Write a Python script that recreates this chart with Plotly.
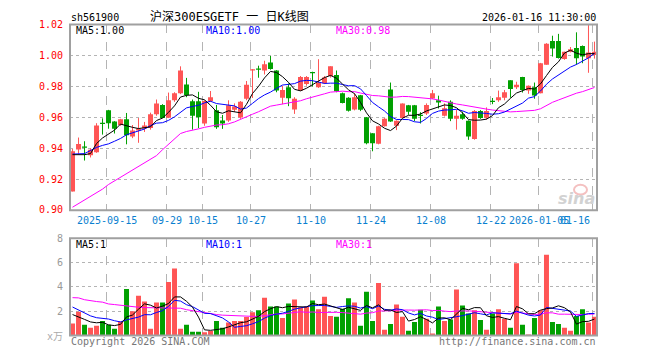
import plotly.graph_objects as go

dates = [
    "2025-09-05", "2025-09-08", "2025-09-09", "2025-09-10", "2025-09-11", "2025-09-12",
    "2025-09-15", "2025-09-16", "2025-09-17", "2025-09-18", "2025-09-19",
    "2025-09-22", "2025-09-23", "2025-09-24", "2025-09-25", "2025-09-26",
    "2025-09-29", "2025-09-30",
    "2025-10-09", "2025-10-10", "2025-10-13", "2025-10-14", "2025-10-15", "2025-10-16",
    "2025-10-17", "2025-10-20", "2025-10-21", "2025-10-22", "2025-10-23", "2025-10-24",
    "2025-10-27", "2025-10-28", "2025-10-29", "2025-10-30", "2025-10-31",
    "2025-11-03", "2025-11-04", "2025-11-05", "2025-11-06", "2025-11-07",
    "2025-11-10", "2025-11-11", "2025-11-12", "2025-11-13", "2025-11-14",
    "2025-11-17", "2025-11-18", "2025-11-19", "2025-11-20", "2025-11-21",
    "2025-11-24", "2025-11-25", "2025-11-26", "2025-11-27", "2025-11-28",
    "2025-12-01", "2025-12-02", "2025-12-03", "2025-12-04", "2025-12-05",
    "2025-12-08", "2025-12-09", "2025-12-10", "2025-12-11", "2025-12-12",
    "2025-12-15", "2025-12-16", "2025-12-17", "2025-12-18", "2025-12-19",
    "2025-12-22", "2025-12-23", "2025-12-24", "2025-12-25", "2025-12-26",
    "2025-12-29", "2025-12-30", "2025-12-31",
    "2026-01-05", "2026-01-06", "2026-01-07", "2026-01-08", "2026-01-09",
    "2026-01-12", "2026-01-13", "2026-01-14", "2026-01-15", "2026-01-16",
]

opens = [
    0.912, 0.9392, 0.9408, 0.9355, 0.9373, 0.9562, 0.9645, 0.9572, 0.955, 0.9588,
    0.9475, 0.9515, 0.9527, 0.953, 0.962, 0.968, 0.9597, 0.971, 0.9755, 0.9812,
    0.9704, 0.9704, 0.956, 0.9705, 0.9645, 0.958, 0.958, 0.9648, 0.9598, 0.972,
    0.9905, 0.9912, 0.9903, 0.9955, 0.9903, 0.9727, 0.9794, 0.9651, 0.9773, 0.9815,
    0.9892, 0.9795, 0.9821, 0.9867, 0.9873, 0.9756, 0.9727, 0.965, 0.9743, 0.960,
    0.9497, 0.9428, 0.9542, 0.978, 0.9546, 0.9595, 0.9678, 0.9678, 0.9614, 0.9625,
    0.9722, 0.971, 0.961, 0.970, 0.959, 0.962, 0.9578, 0.9459, 0.9641, 0.9597,
    0.9704, 0.971, 0.9727, 0.9839, 0.9794, 0.986, 0.9773, 0.9794, 0.9756, 0.994,
    1.0093, 1.0093, 0.9978, 1.0024, 1.0049, 1.0062, 0.9982, 1.0003,
]
highs = [
    0.9395, 0.9469, 0.9445, 0.940, 0.9562, 0.9593, 0.9648, 0.9575, 0.959, 0.9628,
    0.955, 0.9595, 0.957, 0.963, 0.9715, 0.9685, 0.976, 0.9762, 0.993, 0.9855,
    0.9715, 0.9765, 0.971, 0.977, 0.968, 0.9615, 0.971, 0.969, 0.9705, 0.9835,
    0.9912, 0.9934, 0.9966, 0.9997, 0.9905, 0.9804, 0.9819, 0.973, 0.9867, 0.9867,
    0.9895, 0.9976, 0.9867, 0.993, 0.9903, 0.976, 0.973, 0.9755, 0.9745, 0.9602,
    0.9497, 0.9545, 0.9595, 0.9825, 0.958, 0.969, 0.968, 0.968, 0.9633, 0.969,
    0.9777, 0.974, 0.969, 0.971, 0.9647, 0.9637, 0.958, 0.9647, 0.9647, 0.9664,
    0.9725, 0.9773, 0.9777, 0.984, 0.983, 0.9862, 0.9806, 0.9825, 0.9952, 1.008,
    1.0128, 1.014, 1.0025, 1.0055, 1.015, 1.0065, 1.0202, 1.009,
]
lows = [
    0.912, 0.9364, 0.932, 0.934, 0.937, 0.9488, 0.9526, 0.9495, 0.9545, 0.9425,
    0.9465, 0.9435, 0.9505, 0.952, 0.961, 0.9595, 0.9595, 0.970, 0.975, 0.973,
    0.952, 0.953, 0.9545, 0.970, 0.9525, 0.9525, 0.957, 0.9635, 0.959, 0.971,
    0.9725, 0.9856, 0.9877, 0.9908, 0.9762, 0.9685, 0.9672, 0.9622, 0.977, 0.9805,
    0.980, 0.979, 0.9815, 0.9857, 0.9762, 0.969, 0.9637, 0.9645, 0.964, 0.9425,
    0.938, 0.9425, 0.954, 0.957, 0.9517, 0.9593, 0.9616, 0.9575, 0.956, 0.9615,
    0.9718, 0.9657, 0.9605, 0.9575, 0.952, 0.9584, 0.9454, 0.9455, 0.959, 0.9585,
    0.9685, 0.970, 0.971, 0.9727, 0.9783, 0.976, 0.9752, 0.972, 0.9755, 0.994,
    0.9993, 0.998, 0.9972, 1.002, 0.994, 0.995, 0.9888, 0.998,
]
closes = [
    0.938, 0.9427, 0.9405, 0.939, 0.9547, 0.956, 0.9561, 0.9525, 0.9588, 0.9484,
    0.9515, 0.9525, 0.9547, 0.962, 0.969, 0.9595, 0.971, 0.9755, 0.9903, 0.9745,
    0.961, 0.960, 0.9705, 0.973, 0.9535, 0.956, 0.9678, 0.967, 0.970, 0.981,
    0.991, 0.991, 0.9944, 0.9913, 0.9773, 0.9777, 0.9724, 0.972, 0.986, 0.986,
    0.9885, 0.9825, 0.9857, 0.993, 0.9768, 0.9693, 0.9643, 0.973, 0.9648, 0.9432,
    0.9432, 0.9542, 0.959, 0.9573, 0.9578, 0.9689, 0.9636, 0.959, 0.9612, 0.968,
    0.9756, 0.9695, 0.9658, 0.959, 0.961, 0.959, 0.9475, 0.9641, 0.9595, 0.964,
    0.9702, 0.973, 0.9762, 0.9783, 0.981, 0.9777, 0.9804, 0.9741, 0.995, 1.0076,
    1.0045, 0.9983, 1.0024, 1.004, 0.9982, 0.9993, 1.002, 1.0024,
]
ma5 = [
    0.9358, 0.9358, 0.9358, 0.9365, 0.9430, 0.9466, 0.9493, 0.9517, 0.9556, 0.9544,
    0.9535, 0.9527, 0.9532, 0.9538, 0.9579, 0.9595, 0.9632, 0.9674, 0.9731, 0.9742,
    0.9745, 0.9723, 0.9713, 0.9678, 0.9636, 0.9626, 0.9642, 0.9635, 0.9629, 0.9684,
    0.9754, 0.9800, 0.9855, 0.9897, 0.9890, 0.9863, 0.9826, 0.9781, 0.9771, 0.9788,
    0.9810, 0.9830, 0.9857, 0.9871, 0.9853, 0.9815, 0.9778, 0.9753, 0.9696, 0.9629,
    0.9577, 0.9557, 0.9529, 0.9514, 0.9543, 0.9594, 0.9613, 0.9613, 0.9621, 0.9641,
    0.9655, 0.9667, 0.9680, 0.9676, 0.9662, 0.9629, 0.9585, 0.9581, 0.9582, 0.9588,
    0.9611, 0.9662, 0.9686, 0.9723, 0.9757, 0.9772, 0.9787, 0.9783, 0.9816, 0.9870,
    0.9923, 0.9959, 1.0016, 1.0034, 1.0015, 1.0004, 1.0012, 1.0012,
]
ma10 = [
    0.9362, 0.9362, 0.9365, 0.9385, 0.9405, 0.9418, 0.9428, 0.9445, 0.9463, 0.9487,
    0.9500, 0.9510, 0.9524, 0.9547, 0.9562, 0.9565, 0.9580, 0.9603, 0.9634, 0.9661,
    0.9670, 0.9678, 0.9693, 0.9704, 0.9689, 0.9685, 0.9682, 0.9674, 0.9653, 0.9660,
    0.9690, 0.9721, 0.9745, 0.9763, 0.9787, 0.9809, 0.9813, 0.9818, 0.9834, 0.9839,
    0.9837, 0.9828, 0.9819, 0.9821, 0.9821, 0.9812, 0.9804, 0.9805, 0.9784, 0.9741,
    0.9696, 0.9668, 0.9641, 0.9605, 0.9586, 0.9586, 0.9585, 0.9571, 0.9567, 0.9592,
    0.9625, 0.9640, 0.9647, 0.9648, 0.9652, 0.9642, 0.9626, 0.9631, 0.9629, 0.9625,
    0.9620, 0.9623, 0.9634, 0.9653, 0.9673, 0.9692, 0.9724, 0.9734, 0.9770, 0.9814,
    0.9848, 0.9873, 0.9899, 0.9925, 0.9942, 0.9964, 0.9985, 1.0014,
]
ma30 = [
    0.9018, 0.9042, 0.9066, 0.9090, 0.9110, 0.9135, 0.9165, 0.9188, 0.9210, 0.9235,
    0.9258, 0.9278, 0.9305, 0.9328, 0.9352, 0.9390, 0.9425, 0.9465, 0.9495, 0.9508,
    0.9515, 0.9525, 0.9535, 0.9543, 0.9550, 0.9552, 0.9558, 0.9570, 0.9585, 0.9602,
    0.9620, 0.9636, 0.9654, 0.9672, 0.9679, 0.9686, 0.9692, 0.9698, 0.9707, 0.9720,
    0.9732, 0.9742, 0.9752, 0.9763, 0.9765, 0.9769, 0.9766, 0.9766, 0.9757, 0.9747,
    0.9741, 0.9739, 0.9735, 0.9730, 0.9731, 0.9735, 0.9734, 0.9731, 0.9728, 0.9724,
    0.9719, 0.9712, 0.9702, 0.9692, 0.9686, 0.9680, 0.9672, 0.9669, 0.9660, 0.9653,
    0.9647, 0.9644, 0.9640, 0.9635, 0.9637, 0.9640, 0.9645, 0.9645, 0.9655, 0.9677,
    0.9697, 0.9712, 0.9727, 0.9742, 0.9756, 0.9766, 0.9778, 0.9793,
]
volumes = [
    0.99, 1.95, 0.88, 0.64, 0.80, 1.20, 0.88, 0.56, 1.15, 3.84,
    2.00, 3.28, 2.80, 0.56, 2.72, 2.72, 4.40, 5.52, 0.56, 0.88,
    0.32, 0.32, 0.27, 0.37, 1.20, 0.64, 1.07, 1.20, 1.20, 1.52,
    1.92, 2.08, 3.12, 2.40, 2.40, 1.44, 2.64, 2.96, 2.32, 2.40,
    2.88, 2.16, 3.20, 1.60, 1.55, 2.21, 3.07, 2.72, 0.80, 3.60,
    1.20, 4.32, 0.48, 0.96, 2.56, 1.55, 0.40, 1.12, 2.13, 1.39,
    0.16, 2.40, 1.20, 1.33, 3.79, 2.48, 1.81, 2.08, 1.28, 0.48,
    1.81, 2.16, 1.39, 0.64, 5.95, 0.88, 0.08, 1.44, 2.08, 6.64,
    1.12, 0.96, 0.64, 0.40, 1.60, 2.16, 1.07, 1.55,
]
vma5 = [
    1.73, 1.55, 1.33, 1.12, 1.05, 1.09, 0.88, 0.82, 0.92, 1.53,
    1.69, 2.17, 2.61, 2.50, 2.27, 2.42, 2.64, 3.18, 3.18, 2.82,
    2.34, 1.52, 0.47, 0.43, 0.50, 0.56, 0.71, 0.90, 1.06, 1.13,
    1.38, 1.58, 1.97, 2.21, 2.38, 2.29, 2.40, 2.37, 2.35, 2.35,
    2.64, 2.54, 2.59, 2.45, 2.28, 2.14, 2.33, 2.23, 2.07, 2.48,
    2.28, 2.53, 2.08, 2.11, 1.90, 1.97, 1.19, 1.32, 1.55, 1.32,
    1.04, 1.44, 1.46, 1.30, 1.78, 2.24, 2.12, 2.30, 2.29, 1.63,
    1.49, 1.56, 1.42, 1.30, 2.39, 2.20, 1.79, 1.80, 2.09, 2.22,
    2.27, 2.45, 2.29, 1.95, 0.94, 1.15, 1.17, 1.36,
]
vma10 = [
    2.35, 2.10, 1.85, 1.62, 1.47, 1.42, 1.36, 1.22, 1.12, 1.29,
    1.39, 1.52, 1.72, 1.71, 1.90, 2.05, 2.40, 2.90, 2.84, 2.54,
    2.38, 2.08, 1.83, 1.81, 1.66, 1.45, 1.12, 0.68, 0.75, 0.81,
    0.97, 1.15, 1.43, 1.64, 1.76, 1.84, 1.99, 2.17, 2.28, 2.37,
    2.46, 2.47, 2.48, 2.40, 2.32, 2.39, 2.44, 2.41, 2.26, 2.38,
    2.21, 2.43, 2.16, 2.09, 2.19, 2.13, 1.86, 1.70, 1.83, 1.61,
    1.51, 1.32, 1.39, 1.42, 1.55, 1.64, 1.78, 1.88, 1.79, 1.70,
    1.87, 1.84, 1.86, 1.79, 2.01, 1.85, 1.68, 1.61, 1.69, 2.31,
    2.24, 2.12, 2.04, 2.02, 1.58, 1.71, 1.81, 1.82,
]
vma30 = [
    3.12, 3.10, 2.95, 2.85, 2.80, 2.75, 2.60, 2.55, 2.48, 2.45,
    2.40, 2.33, 2.30, 2.30, 2.30, 2.27, 2.27, 2.26, 2.25, 2.13,
    2.05, 1.95, 1.83, 1.78, 1.73, 1.68, 1.65, 1.62, 1.60, 1.55,
    1.58, 1.58, 1.66, 1.72, 1.77, 1.78, 1.84, 1.92, 1.96, 1.91,
    1.94, 1.90, 1.91, 1.95, 1.91, 1.89, 1.85, 1.75, 1.76, 1.85,
    1.88, 2.02, 2.02, 2.04, 2.09, 2.12, 2.10, 2.09, 2.12, 2.12,
    2.06, 2.07, 2.01, 1.97, 2.02, 2.05, 2.03, 2.00, 1.96, 1.90,
    1.86, 1.86, 1.80, 1.77, 1.92, 1.87, 1.77, 1.73, 1.77, 1.87,
    1.87, 1.76, 1.76, 1.75, 1.71, 1.73, 1.76, 1.77,
]

tick_dates = ["2025-09-15", "2025-09-29", "2025-10-15", "2025-10-27", "2025-11-10",
              "2025-11-24", "2025-12-08", "2025-12-22", "2026-01-05", "2026-01-16"]
tick_labels = ["2025-09-15", "09-29", "10-15", "10-27", "11-10",
               "11-24", "12-08", "12-22", "2026-01-05", "01-16"]
price_ticks = [0.90, 0.92, 0.94, 0.96, 0.98, 1.00, 1.02]
vol_ticks = [2, 4, 6, 8]

# ---------------- layout geometry (pixels) ----------------
W, H = 660, 360
PX_L, PX_R = 70, 597
P_TOP, P_BOT = 20, 211
V_TOP, V_BOT = 240, 340
UP, DOWN = "#ff5555", "#00a000"
MONO = "DejaVu Sans Mono, Liberation Mono, monospace"


def px(x):
    return x / W


def py(y):
    return 1 - y / H


xs = list(range(len(dates)))
colors = [UP if c >= o else DOWN for o, c in zip(opens, closes)]
tick_idx = [dates.index(d) for d in tick_dates]
grid_x = [i - 0.3 for i in tick_idx]

fig = go.Figure()

# wicks
for col in (UP, DOWN):
    wx, wy = [], []
    for i in xs:
        if colors[i] == col:
            wx += [i, i, None]
            wy += [lows[i], highs[i], None]
    fig.add_trace(go.Scatter(x=wx, y=wy, mode="lines", line=dict(color=col, width=1),
                             xaxis="x", yaxis="y", hoverinfo="skip"))

# bodies
MINH = 0.0008
base, hgt = [], []
for o, c in zip(opens, closes):
    d = abs(c - o)
    if d < MINH:
        base.append(min(o, c) - (MINH - d) / 2)
        hgt.append(MINH)
    else:
        base.append(min(o, c))
        hgt.append(d)
fig.add_trace(go.Bar(x=xs, y=hgt, base=base, width=0.83,
                     marker=dict(color=colors, line=dict(width=0)),
                     xaxis="x", yaxis="y", hoverinfo="skip"))

for arr, col in ((ma30, "#ff00ff"), (ma10, "#0000ff"), (ma5, "#000000")):
    fig.add_trace(go.Scatter(x=xs, y=arr, mode="lines", line=dict(color=col, width=1),
                             xaxis="x", yaxis="y", hoverinfo="skip"))

# volume
fig.add_trace(go.Bar(x=xs, y=volumes, width=0.83,
                     marker=dict(color=colors, line=dict(width=0)),
                     xaxis="x2", yaxis="y2", hoverinfo="skip"))
for arr, col in ((vma30, "#ff00ff"), (vma10, "#0000ff"), (vma5, "#000000")):
    fig.add_trace(go.Scatter(x=xs, y=arr, mode="lines", line=dict(color=col, width=1),
                             xaxis="x2", yaxis="y2", hoverinfo="skip"))

xrange = [-0.42, len(dates) - 1 + 0.42]
GRID = "#b4b4b4"
xcommon = dict(domain=[px(PX_L), px(PX_R)], range=xrange, showticklabels=False,
               tickvals=grid_x, ticks="", showgrid=True, griddash="dash",
               gridcolor=GRID, gridwidth=1, zeroline=False, showline=False,
               fixedrange=True)

annotations = []
# date labels
for k, (i, lab) in enumerate(zip(grid_x, tick_labels)):
    last = k == len(tick_labels) - 1
    annotations.append(dict(x=i, xref="x", y=py(221.5), yref="paper", text=lab,
                            showarrow=False, xanchor="right" if last else "center",
                            xshift=-1 if last else 0, yanchor="middle",
                            font=dict(family=MONO, size=10, color="#0a7fd0")))


def txt(x, y, s, color="#000", size=10, anchor="left", family=MONO):
    annotations.append(dict(x=px(x), y=py(y), xref="paper", yref="paper", text=s,
                            showarrow=False, xanchor=anchor, yanchor="middle",
                            font=dict(family=family, size=size, color=color)))


txt(69, 13, "sh561900")
txt(148, 12, "沪深300ESGETF 一 日K线图", size=12,
    family="DejaVu Sans Mono, Noto Sans CJK SC")
txt(598, 13, "2026-01-16 11:30:00", anchor="right")
txt(74, 26.5, "MA5:" + f"{ma5[-1]:.2f}")
txt(204, 26.5, "MA10:" + f"{ma10[-1]:.2f}", color="#0000ff")
txt(334, 26.5, "MA30:" + f"{ma30[-1]:.2f}", color="#ff00ff")
txt(74, 246.5, "MA5:" + f"{int(vma5[-1])}")
txt(204, 246.5, "MA10:" + f"{int(vma10[-1])}", color="#0000ff")
txt(334, 246.5, "MA30:" + f"{int(vma30[-1])}", color="#ff00ff")
txt(69, 346, "Copyright 2026 SINA.COM", color="#777")
txt(598, 346, "http://finance.sina.com.cn", color="#777", anchor="right")
txt(65, 341, "x万", color="#aaa", size=10, anchor="right",
    family="DejaVu Sans Mono, Noto Sans CJK SC")
annotations.append(dict(x=px(597), y=py(199), xref="paper", yref="paper", text="sina",
                        showarrow=False, xanchor="right", yanchor="middle",
                        font=dict(family="DejaVu Sans", size=16, color="#d2d2d2",
                                  style="italic", weight="bold")))

shapes = [
    dict(type="rect", xref="paper", yref="paper", x0=px(PX_L), x1=px(PX_R),
         y0=py(P_BOT), y1=py(P_TOP), line=dict(color="#a0a0a0", width=2)),
    dict(type="rect", xref="paper", yref="paper", x0=px(PX_L), x1=px(PX_R),
         y0=py(V_BOT), y1=py(V_TOP), line=dict(color="#a0a0a0", width=2)),
    dict(type="circle", xref="paper", yref="paper", x0=px(574), x1=px(587),
         y0=py(195), y1=py(185), line=dict(color="#f4c0c0", width=2)),
]

fig.update_layout(
    width=W, height=H, margin=dict(l=0, r=0, t=0, b=0),
    paper_bgcolor="white", plot_bgcolor="white",
    showlegend=False, hovermode=False, barmode="overlay",
    xaxis=dict(anchor="y", **xcommon),
    xaxis2=dict(anchor="y2", matches="x", **xcommon),
    yaxis=dict(domain=[py(P_BOT), py(P_TOP)], range=[0.8999, 1.0201],
               tickvals=price_ticks, ticktext=[f"{v:.2f}" for v in price_ticks],
               tickfont=dict(family=MONO, size=10, color="#ff0000"),
               ticks="outside", ticklen=4, tickcolor="rgba(0,0,0,0)",
               showgrid=True, griddash="dot", gridcolor=GRID, zeroline=False,
               showline=False, fixedrange=True),
    yaxis2=dict(domain=[py(V_BOT), py(V_TOP)], range=[0, 8.001],
                tickvals=vol_ticks, ticktext=[str(v) for v in vol_ticks],
                tickfont=dict(family=MONO, size=10, color="#999"),
                ticks="outside", ticklen=4, tickcolor="rgba(0,0,0,0)",
                showgrid=True, griddash="dot", gridcolor=GRID, zeroline=False,
                showline=False, fixedrange=True),
    annotations=annotations, shapes=shapes,
)

fig.write_html("out.html",
               config={"displayModeBar": False, "staticPlot": True},
               post_script="document.body.style.margin='0';"
                           "document.body.style.overflow='hidden';")
